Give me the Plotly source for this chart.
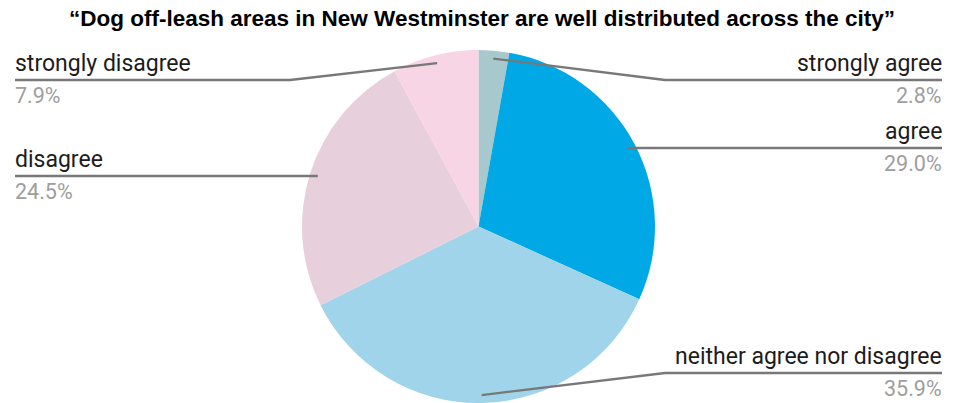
import math
import plotly.graph_objects as go

W, H = 962, 403

# Survey responses (percent), clockwise from 12 o'clock
categories = ["strongly agree", "agree", "neither agree nor disagree", "disagree", "strongly disagree"]
shares = [2.8, 29.0, 35.9, 24.5, 7.9]
pct_labels = ["2.8%", "29.0%", "35.9%", "24.5%", "7.9%"]
colors = ["#a7c9cd", "#00a9e6", "#9fd4ea", "#e7cfdc", "#f8d5e4"]

# Label layout: which side, and the y of the horizontal leader segment
label_side = ["right", "right", "right", "left", "left"]
label_line_y = [80, 148, 373, 176, 80]

# Pie placement in pixels
cx, top = 478.5, 50
R = (H - top) / 2
cy = top + R
dot_r = 0.955 * R

fig = go.Figure()
fig.add_trace(go.Pie(
    labels=categories, values=shares, sort=False, direction="clockwise",
    rotation=0, marker=dict(colors=colors, line=dict(width=0)),
    textinfo="none", hoverinfo="label+percent", showlegend=False,
    domain=dict(x=[(cx - R) / W, (cx + R) / W], y=[0, 1 - top / H]),
))

total = sum(shares)
cum = 0.0
dots_x, dots_y = [], []
shapes, annotations = [], []
left_x, left_elbow = 15, 290
right_x, right_elbow = 942, 665
text_nudge = 2  # annotation box padding compensation
for cat, v, pl, side, ly in zip(categories, shares, pct_labels, label_side, label_line_y):
    mid = (cum + v / 2) / total * 2 * math.pi
    cum += v
    dx = cx + dot_r * math.sin(mid)
    dy = cy - dot_r * math.cos(mid)
    dots_x.append(dx)
    dots_y.append(dy)
    if side == "right":
        elbow, end, anchor = right_elbow, right_x, "right"
        tx = end + text_nudge
        if dx > elbow:
            elbow = dx
    else:
        elbow, end, anchor = left_elbow, left_x, "left"
        tx = end - text_nudge
        if dx < elbow:
            elbow = dx
    if abs(dy - ly) > 1:
        path = f"M {dx},{dy} L {elbow},{ly} L {end},{ly}"
    else:
        path = f"M {dx},{ly} L {end},{ly}"
    shapes.append(dict(type="path", xref="x", yref="y", path=path,
                       line=dict(color="#787878", width=2.3)))
    annotations.append(dict(x=tx, y=ly - 1, xref="x", yref="y", text=cat,
                            showarrow=False, xanchor=anchor, yanchor="bottom",
                            font=dict(family="Roboto", size=23, color="#1c1c1c")))
    annotations.append(dict(x=tx, y=ly + 1, xref="x", yref="y", text=pl,
                            showarrow=False, xanchor=anchor, yanchor="top",
                            font=dict(family="Roboto", size=21.5, color="#9e9e9e")))

fig.add_trace(go.Scatter(
    x=dots_x, y=dots_y, mode="markers", hoverinfo="skip", showlegend=False,
    marker=dict(size=10, color="#999999"),
))

annotations.append(dict(
    x=W / 2 + 1, y=18, xref="x", yref="y", showarrow=False, xanchor="center", yanchor="middle",
    text="<b>\u201cDog off-leash areas in New Westminster are well distributed across the city\u201d</b>",
    font=dict(family="Liberation Sans, Arial", size=22.5, color="#000000"),
))

fig.update_layout(
    width=W, height=H, margin=dict(l=0, r=0, t=0, b=0),
    paper_bgcolor="#ffffff", plot_bgcolor="rgba(0,0,0,0)",
    xaxis=dict(range=[0, W], visible=False, fixedrange=True),
    yaxis=dict(range=[H, 0], visible=False, fixedrange=True),
    shapes=shapes, annotations=annotations,
)

fig.write_html("out.html", config={"displayModeBar": False})
